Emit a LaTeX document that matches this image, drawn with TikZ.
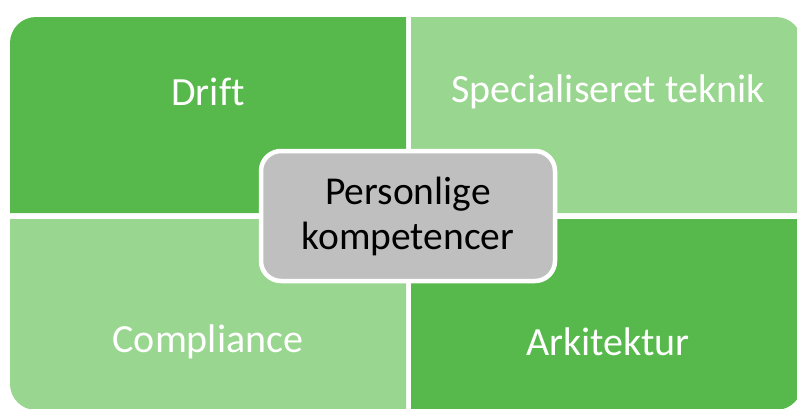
\documentclass[tikz,border=0pt]{standalone}
\usepackage{fontspec}
\setmainfont{Carlito}[Ligatures=NoCommon]
\usepackage{tikz}
\usetikzlibrary{shapes}

\definecolor{darkgreen}{RGB}{87,185,75}
\definecolor{lightgreen}{RGB}{153,214,143}
\definecolor{centergrey}{RGB}{191,191,191}

\tikzset{
  label/.style={text=white,font=\fontsize{40}{45}\selectfont},
  core/.style={rectangle,rounded corners=20pt,draw=white,line width=4.5pt,fill=centergrey,
    minimum width=294pt,minimum height=130pt,align=center,font=\fontsize{39.5}{45}\selectfont}
}

\begin{document}
\begin{tikzpicture}[x=1pt,y=-1pt]
			\useasboundingbox (0,0) rectangle (797,408);
			\clip (0,0) rectangle (797,408);

			% quadrants
			\fill[darkgreen] (406,213) -- (10,213) [rounded corners=26] -- (10,17) [sharp corners] -- (406,17) -- cycle;
			\fill[lightgreen] (411,213) -- (411,17) [rounded corners=26] -- (802,17) [sharp corners] -- (802,213) -- cycle;
			\fill[lightgreen] (406,219) -- (10,219) [rounded corners=26] -- (10,410) [sharp corners] -- (406,410) -- cycle;
			\fill[darkgreen] (411,219) -- (802,219) [rounded corners=26] -- (802,410) [sharp corners] -- (411,410) -- cycle;

			\node[label] (drift) at (208,92) {Drift};
			\node[label] (teknik) at (608,92) {Specialiseret teknik};
			\node[label] (compliance) at (208,342) {Compliance};
			\node[label] (arkitektur) at (608,342) {Arkitektur};

			\node[core] (personlige) at (408,216) {Personlige\\kompetencer};
		\end{tikzpicture}
\end{document}
